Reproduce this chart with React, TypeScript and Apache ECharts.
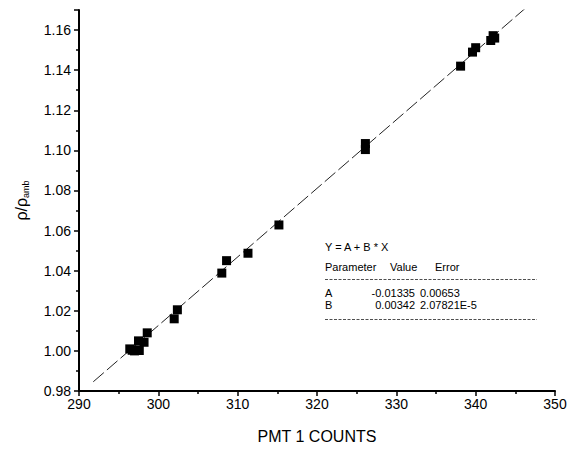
import React, { useEffect, useRef } from "react";
import * as echarts from "echarts";

// Measured density ratio against PMT 1 counts
const PMT_COUNTS = [
  296.4, 296.7, 297.0, 297.4, 297.6, 297.5, 298.2, 298.6, 302.0, 302.4, 308.0,
  308.6, 311.3, 315.2, 326.1, 326.1, 338.1, 339.6, 340.0, 341.9, 342.2, 342.4,
];
const DENSITY_RATIO = [
  1.001, 1.0003, 1.0, 1.0005, 1.0002, 1.005, 1.0043, 1.009, 1.016, 1.0205,
  1.0388, 1.045, 1.0487, 1.0628, 1.1004, 1.1034, 1.142, 1.149, 1.1512, 1.1548,
  1.1572, 1.156,
];

// Linear fit Y = A + B * X
const PARAM_NAMES = ["A", "B"];
const PARAM_VALUES = [-0.01335, 0.00342];
const PARAM_VALUE_TEXT = ["-0.01335", "0.00342"];
const PARAM_ERRORS = ["0.00653", "2.07821E-5"];
const FIT_RANGE = [291.8, 346.3];

const FONT = "'Liberation Sans', Arial, Helvetica, sans-serif";

export default function App() {
  const ref = useRef<HTMLDivElement>(null);

  useEffect(() => {
    if (!ref.current) return;
    const chart = echarts.init(ref.current, null, { renderer: "svg" });

    const points = PMT_COUNTS.map((x, i) => [x, DENSITY_RATIO[i]]);
    const [a, b] = PARAM_VALUES;
    const fitLine = FIT_RANGE.map((x) => [x, a + b * x]);

    const tx = 325;
    const rowY = [292.5, 305];
    const tFont = `11px ${FONT}`;
    const tableText: any[] = [
      { type: "text", style: { text: "Y = A + B * X", x: tx, y: 246.5, font: tFont, fill: "#000", verticalAlign: "middle" } },
      { type: "text", style: { text: "Parameter", x: tx, y: 266.5, font: tFont, fill: "#000", verticalAlign: "middle" } },
      { type: "text", style: { text: "Value", x: 390, y: 266.5, font: tFont, fill: "#000", verticalAlign: "middle" } },
      { type: "text", style: { text: "Error", x: 435, y: 266.5, font: tFont, fill: "#000", verticalAlign: "middle" } },
      { type: "line", shape: { x1: tx, y1: 279.5, x2: 537, y2: 279.5 }, style: { stroke: "#222", lineWidth: 0.8, lineDash: [3, 1.5] } },
      { type: "line", shape: { x1: tx, y1: 319.5, x2: 537, y2: 319.5 }, style: { stroke: "#222", lineWidth: 0.8, lineDash: [3, 1.5] } },
    ];
    PARAM_NAMES.forEach((name, i) => {
      tableText.push(
        { type: "text", style: { text: name, x: tx, y: rowY[i], font: tFont, fill: "#000", verticalAlign: "middle" } },
        { type: "text", style: { text: PARAM_VALUE_TEXT[i], x: 415, y: rowY[i], font: tFont, fill: "#000", verticalAlign: "middle", align: "right" } },
        { type: "text", style: { text: PARAM_ERRORS[i], x: 420, y: rowY[i], font: tFont, fill: "#000", verticalAlign: "middle" } }
      );
    });

    chart.setOption({
      animation: false,
      backgroundColor: "#fff",
      grid: { left: 79, right: 25, top: 10, bottom: 59 },
      xAxis: {
        type: "value",
        min: 290,
        max: 350,
        interval: 10,
        name: "PMT 1 COUNTS",
        nameLocation: "middle",
        nameGap: 37,
        nameTextStyle: { fontFamily: FONT, fontSize: 16, color: "#000" },
        axisLine: { show: true, lineStyle: { color: "#000", width: 2 } },
        axisTick: { show: true, length: 5, lineStyle: { color: "#000", width: 1.5 } },
        minorTick: { show: true, splitNumber: 2, length: 3, lineStyle: { color: "#000", width: 1.5 } },
        splitLine: { show: false },
        axisLabel: { fontFamily: FONT, fontSize: 14, color: "#000", margin: 6 },
      },
      yAxis: {
        type: "value",
        min: 0.98,
        max: 1.17,
        interval: 0.02,
        name: "ρ/ρ{sub|amb}",
        nameLocation: "middle",
        nameRotate: 90,
        nameGap: 49,
        nameTextStyle: {
          fontFamily: FONT,
          fontSize: 16,
          color: "#000",
          rich: {
            sub: { fontFamily: FONT, fontSize: 9, color: "#000", padding: [9, 0, 0, 0] },
          },
        },
        axisLine: { show: true, lineStyle: { color: "#000", width: 2 } },
        axisTick: { show: true, length: 5, lineStyle: { color: "#000", width: 1.5 } },
        minorTick: { show: true, splitNumber: 2, length: 3, lineStyle: { color: "#000", width: 1.5 } },
        splitLine: { show: false },
        axisLabel: {
          fontFamily: FONT,
          fontSize: 14,
          color: "#000",
          margin: 8,
          showMaxLabel: false,
          formatter: (v: number) => v.toFixed(2),
        },
      },
      series: [
        {
          type: "line",
          data: fitLine,
          symbol: "none",
          lineStyle: { color: "#222", width: 1, type: [14, 4] },
          z: 1,
        },
        {
          type: "scatter",
          data: points,
          symbol: "rect",
          symbolSize: 9,
          itemStyle: { color: "#000", opacity: 1 },
          z: 2,
        },
      ],
      graphic: tableText,
    });

    return () => chart.dispose();
  }, []);

  return (
    <div
      ref={ref}
      style={{ position: "fixed", left: 0, top: 0, width: 580, height: 450, background: "#fff" }}
    />
  );
}
